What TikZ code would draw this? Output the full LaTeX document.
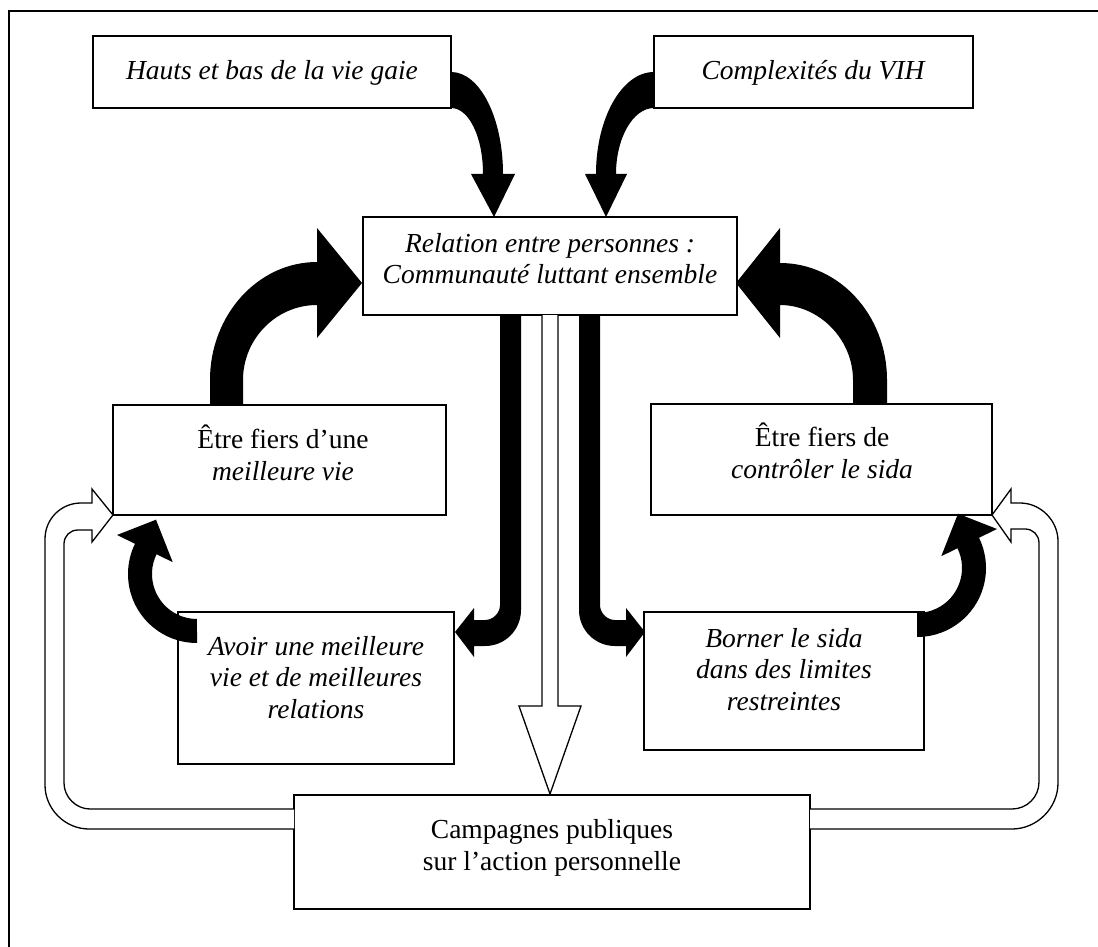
\documentclass[tikz,border=0pt]{standalone}
\usepackage{fontspec}
\setmainfont{Liberation Serif}
\begin{document}
\begin{tikzpicture}[x=1pt,y=-1pt,
  box/.style={draw, line width=1.4pt, fill=white, inner sep=0pt, outer sep=0pt},
  txt/.style={align=center, inner sep=0pt, anchor=base, font=\fontsize{27.5}{31.5}\selectfont},
  blockarrow/.style={fill=black},
  hollow/.style={draw=black, fill=white, line width=1.3pt, line join=miter}]

\useasboundingbox (0,0) rectangle (1098,947);
\fill[white] (0,0) rectangle (1098,947);
% outer frame: left and top edges
\draw[line width=1.4pt] (9,947) -- (9,11) -- (1098,11);

% boxes
\node[box, minimum width=358pt, minimum height=72pt]  (haut)   at (272,72) {};
\node[box, minimum width=319pt, minimum height=72pt]  (vih)    at (813.5,72) {};
\node[box, minimum width=374pt, minimum height=98pt]  (rel)    at (550,266) {};
\node[box, minimum width=333pt, minimum height=110pt] (fiersA) at (279.5,460) {};
\node[box, minimum width=341pt, minimum height=111pt] (fiersB) at (821.5,459.5) {};
\node[box, minimum width=276pt, minimum height=152pt] (avoir)  at (316,688) {};
\node[box, minimum width=280pt, minimum height=138pt] (borner) at (784,681) {};
\node[box, minimum width=516pt, minimum height=114pt] (camp)   at (552,852) {};

% labels (anchored at the baseline of their last line)
\node[txt] (tHaut)   at (272,80)    {\itshape Hauts et bas de la vie gaie};
\node[txt] (tVih)    at (813,80)    {\itshape Complexités du VIH};
\node[txt] (tRel)    at (550,283.5) {\itshape Relation entre personnes :\\\itshape Communauté luttant ensemble};
\node[txt] (tFiersA) at (283,480)   {Être fiers d’une\\\itshape meilleure vie};
\node[txt] (tFiersB) at (822,478)   {Être fiers de\\\itshape contrôler le sida};
\node[txt] (tAvoir)  at (316,718)   {\itshape Avoir une meilleure\\\itshape vie et de meilleures\\\itshape relations};
\node[txt] (tBorner) at (784,710)   {\itshape Borner le sida\\\itshape dans des limites\\\itshape restreintes};
\node[txt] (tCamp)   at (552,870)   {Campagnes publiques\\sur l’action personnelle};

% haut -> rel
\begin{scope}[shift={(haut.south east)}]
  \fill[blockarrow] (0,0) .. controls (18,0) and (32,29) .. (32,66)
    -- (20,66) -- (43,109) -- (64,66) -- (52,66)
    .. controls (52,10) and (29,-36) .. (0,-36) -- cycle;
\end{scope}
% vih -> rel
\begin{scope}[shift={(vih.south west)}]
  \fill[blockarrow] (0,0) .. controls (-21,0) and (-38,30) .. (-38,66)
    -- (-27,66) -- (-48,109) -- (-69,66) -- (-58,66)
    .. controls (-58,10) and (-32,-36) .. (0,-36) -- cycle;
\end{scope}
% fiersA -> rel
\begin{scope}[shift={(fiersA.north west)}]
  \fill[blockarrow] (97,0) -- (97,-25) .. controls (97,-90) and (145,-143) .. (204,-143)
    -- (204,-177) -- (249,-122) -- (204,-67) -- (204,-100)
    .. controls (163,-100) and (130,-66) .. (130,-25) -- (130,0) -- cycle;
\end{scope}
% fiersB -> rel
\begin{scope}[shift={(fiersB.north east)}]
  \fill[blockarrow] (-105,0) -- (-105,-24) .. controls (-105,-89) and (-153,-141) .. (-212,-141)
    -- (-212,-176) -- (-256,-121) -- (-212,-66) -- (-212,-99)
    .. controls (-173,-99) and (-139,-65) .. (-139,-24) -- (-139,0) -- cycle;
\end{scope}
% rel -> avoir, rel -> borner, rel -> camp
\begin{scope}[shift={(rel.south)}]
  \fill[blockarrow] (-50,0) -- (-50,290) .. controls (-50,298) and (-57,305) .. (-65,305)
    -- (-76,305) -- (-76,293) -- (-95,317) -- (-76,342) -- (-76,331) -- (-65,331)
    .. controls (-45,331) and (-29,315) .. (-29,295) -- (-29,0) -- cycle;
  \fill[blockarrow] (50,0) -- (50,290) .. controls (50,298) and (57,305) .. (65,305)
    -- (76,305) -- (76,293) -- (95,317) -- (76,342) -- (76,331) -- (65,331)
    .. controls (45,331) and (29,315) .. (29,295) -- (29,0) -- cycle;
  \filldraw[hollow] (-8,0) -- (-8,391) -- (-31,391) -- (0,479) -- (31,391) -- (8,391) -- (8,0);
\end{scope}
% camp -> fiersA
\begin{scope}[shift={(camp.west)}]
  \filldraw[hollow] (0,-23) -- (-205,-23) .. controls (-229,-23) and (-249,-43) .. (-249,-67)
    -- (-249,-313) .. controls (-249,-333) and (-233,-349) .. (-213,-349)
    -- (-202,-349) -- (-202,-363) -- (-181,-337) -- (-202,-310) -- (-202,-322) -- (-216,-322)
    .. controls (-224,-322) and (-230,-316) .. (-230,-308)
    -- (-230,-69) .. controls (-230,-55) and (-218,-43) .. (-204,-43) -- (0,-43);
\end{scope}
% camp -> fiersB
\begin{scope}[shift={(camp.east)}]
  \filldraw[hollow] (0,-23) -- (202,-23) .. controls (227,-23) and (248,-44) .. (248,-69)
    -- (248,-311) .. controls (248,-331) and (231,-349) .. (210,-349)
    -- (201,-349) -- (201,-363) -- (182,-337) -- (201,-310) -- (201,-323) -- (215,-323)
    .. controls (223,-323) and (229,-317) .. (229,-309)
    -- (229,-70) .. controls (229,-55) and (217,-43) .. (202,-43) -- (0,-43);
\end{scope}
% avoir -> fiersA
\begin{scope}[shift={(avoir.north west)}]
  \fill[blockarrow] (19,31) arc[start angle=90, end angle=206, radius=69]
    -- (-61,-77) -- (-22,-92.3) -- (-5.27,-49.84) -- (-21.45,-57.73)
    arc[start angle=206, end angle=90, radius=45] -- cycle;
\end{scope}
% borner -> fiersB
\begin{scope}[shift={(borner.north east)}]
  \fill[blockarrow] (-7,25) arc[start angle=90, end angle=-26, radius=69]
    -- (73,-83) -- (34,-98.3) -- (17.27,-55.84) -- (33.45,-63.73)
    arc[start angle=-26, end angle=90, radius=45] -- cycle;
\end{scope}
\end{tikzpicture}
\end{document}
